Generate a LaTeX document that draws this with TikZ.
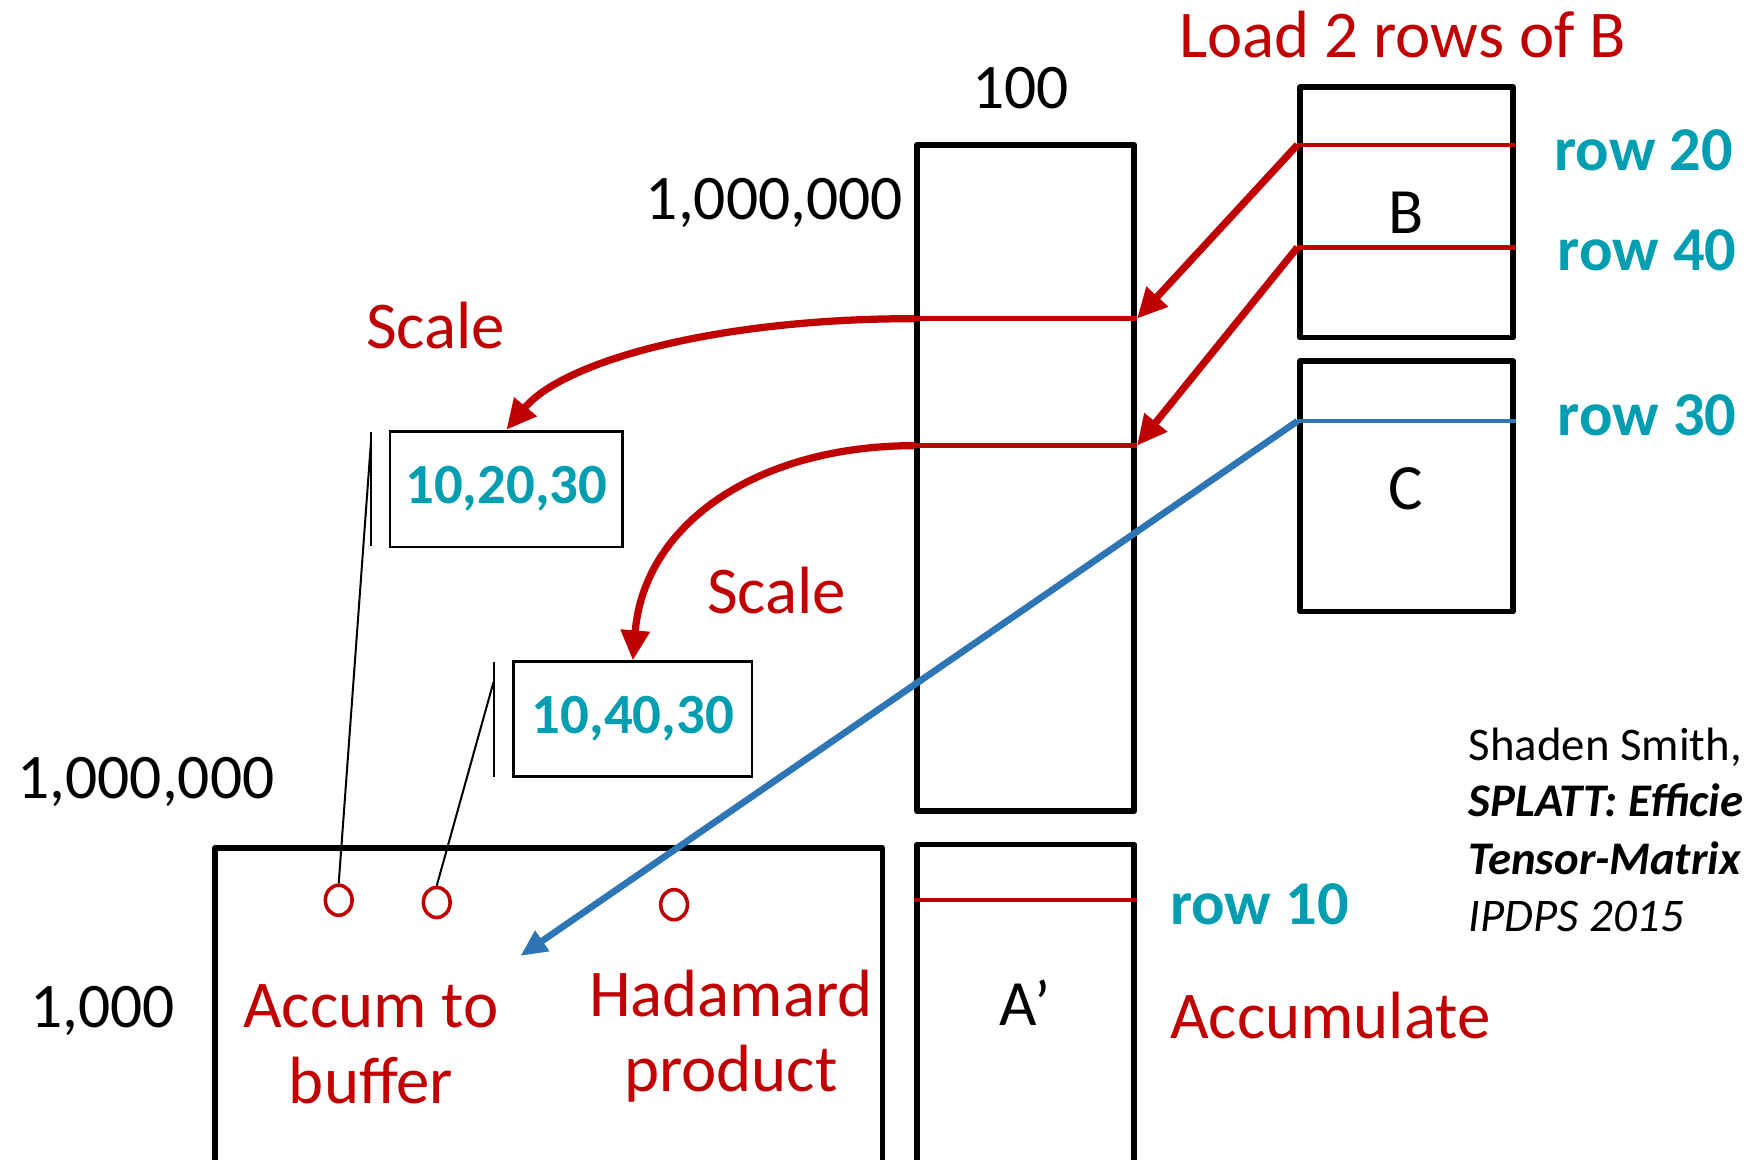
\documentclass[tikz,border=0pt]{standalone}
\usepackage{fontspec}
\setmainfont{Carlito}
\usetikzlibrary{arrows.meta,shapes.geometric}
\definecolor{dred}{RGB}{192,0,0}
\definecolor{tealc}{RGB}{0,158,176}
\definecolor{lblue}{RGB}{46,117,182}

\begin{document}
\begin{tikzpicture}[x=1pt,y=-1pt,
  box/.style={draw=black,line width=5pt,rectangle,inner sep=0pt,line join=round},
  tbox/.style={draw=black,line width=2.4pt,rectangle,inner sep=0pt},
  redline/.style={draw=dred,line width=4pt},
  blueline/.style={draw=lblue,line width=4pt},
  redarrow/.style={draw=dred,line width=6.5pt,-{Triangle[length=27pt,width=25pt]}},
  bluearrow/.style={draw=lblue,line width=6pt,-{Triangle[length=24pt,width=21pt]}},
  thin/.style={draw=black,line width=1.8pt},
  dot/.style={draw=dred,line width=3.2pt,ellipse,minimum width=24pt,minimum height=27pt,inner sep=0pt},
  redtxt/.style={text=dred,font=\fontsize{60}{68}\selectfont,inner sep=0pt,anchor=base},
  numtxt/.style={text=black,font=\fontsize{57}{62}\selectfont,inner sep=0pt,anchor=base},
  rowtxt/.style={text=tealc,font=\bfseries\fontsize{56}{60}\selectfont,inner sep=0pt,anchor=base west},
  valtxt/.style={text=tealc,font=\bfseries\fontsize{51}{56}\selectfont},
  lettxt/.style={text=black,font=\fontsize{58}{64}\selectfont,inner sep=0pt,anchor=base},
  citetxt/.style={text=black,font=\fontsize{42}{52}\selectfont,inner sep=0pt,anchor=base west}
]
\useasboundingbox (0,0) rectangle (1568,1041);

% matrices
\node[box,minimum width=195pt,minimum height=598pt] (M) at (920.5,429) {};
\node[box,minimum width=191pt,minimum height=225pt] (Bm) at (1262.5,190.5) {};
\node[box,minimum width=191pt,minimum height=225pt] (Cm) at (1262.5,436.5) {};
\node[box,minimum width=195pt,minimum height=322pt] (Am) at (920.5,919) {};
\node[box,minimum width=599pt,minimum height=320pt] (H) at (492.5,921) {};

% buffered nonzeros
\node[tbox,minimum width=209pt,minimum height=104pt,valtxt] (v1) at (454.5,439) {10,20,30};
\node[tbox,minimum width=214pt,minimum height=103pt,valtxt] (v2) at (568,645.5) {10,40,30};
\coordinate (bar1t) at (333,388);
\coordinate (bar1b) at (333,490);
\coordinate (bar2t) at (443,594);
\coordinate (bar2b) at (443,697);
\draw[thin] (bar1t) -- (bar1b);
\draw[thin] (bar2t) -- (bar2b);

% row positions
\coordinate (r20) at (0,130);
\coordinate (r40) at (0,222);
\coordinate (r30) at (0,378);
\coordinate (m1) at (0,286);
\coordinate (m2) at (0,400);
\coordinate (r10) at (0,808);

\draw[redline] (r20 -| Bm.west) -- (r20 -| Bm.east);
\draw[redline] (r40 -| Bm.west) -- (r40 -| Bm.east);
\draw[blueline] (r30 -| Cm.west) -- (r30 -| Cm.east);
\draw[redline] (m1 -| M.west) -- (m1 -| M.east);
\draw[redline] (m2 -| M.west) -- (m2 -| M.east);
\draw[redline] (r10 -| Am.west) -- (r10 -| Am.east);

% accumulators in the buffer
\node[dot] (c1) at (304,808) {};
\node[dot] (c2) at (392,810) {};
\node[dot] (c3) at (605,812) {};
\coordinate (l1) at (333,396);
\coordinate (l2) at (443,612);
\draw[thin] (l1) -- (c1.north);
\draw[thin] (l2) -- (c2.north);

% data movement
\draw[redarrow] (r20 -| Bm.west) -- (m1 -| M.east);
\draw[redarrow] (r40 -| Bm.west) -- (m2 -| M.east);
\draw[redarrow] (m1 -| M.west) .. controls (640,286) and (505,325) .. (v1.north);
\draw[redarrow] (m2 -| M.west) .. controls (680,400) and (578,470) .. (v2.north);
\coordinate (hp) at (467,858);
\draw[bluearrow] (r30 -| Cm.west) -- (hp);

% labels
\node[redtxt] (load) at (1259,52) {Load 2 rows of B};
\node[numtxt] (n100) at (916,97) {100};
\node[numtxt] (nM) at (695,197) {1,000,000};
\node[numtxt] (nL) at (131,717) {1,000,000};
\node[numtxt] (nK) at (92,922) {1,000};
\node[rowtxt] (t20) at (1395,153) {row 20};
\node[rowtxt] (t40) at (1398,243) {row 40};
\node[rowtxt] (t30) at (1398,391) {row 30};
\node[rowtxt] (t10) at (1050,830) {row 10};
\node[lettxt] (lB) at (1262,210) {B};
\node[lettxt] (lC) at (1262,457) {C};
\node[lettxt] (lA) at (920,920) {A’};
\node[redtxt] (s1) at (391,313) {Scale};
\node[redtxt] (s2) at (697,551) {Scale};
\node[redtxt] (acc1) at (333,922) {Accum to};
\node[redtxt] (acc2) at (333,990) {buffer};
\node[redtxt] (had1) at (656,912) {Hadamard};
\node[redtxt] (had2) at (656,980) {product};
\node[redtxt,anchor=base west] (accum) at (1050,932) {Accumulate};

% reference
\node[citetxt] (ref1) at (1318,683) {Shaden Smith,};
\node[citetxt,font=\fontsize{42}{52}\selectfont\bfseries\itshape] (ref2) at (1318,733) {SPLATT: Efficie};
\node[citetxt,font=\fontsize{42}{52}\selectfont\bfseries\itshape] (ref3) at (1318,785) {Tensor-Matrix};
\node[citetxt,font=\fontsize{42}{52}\selectfont\itshape] (ref4) at (1318,836) {IPDPS 2015};
\end{tikzpicture}
\end{document}
